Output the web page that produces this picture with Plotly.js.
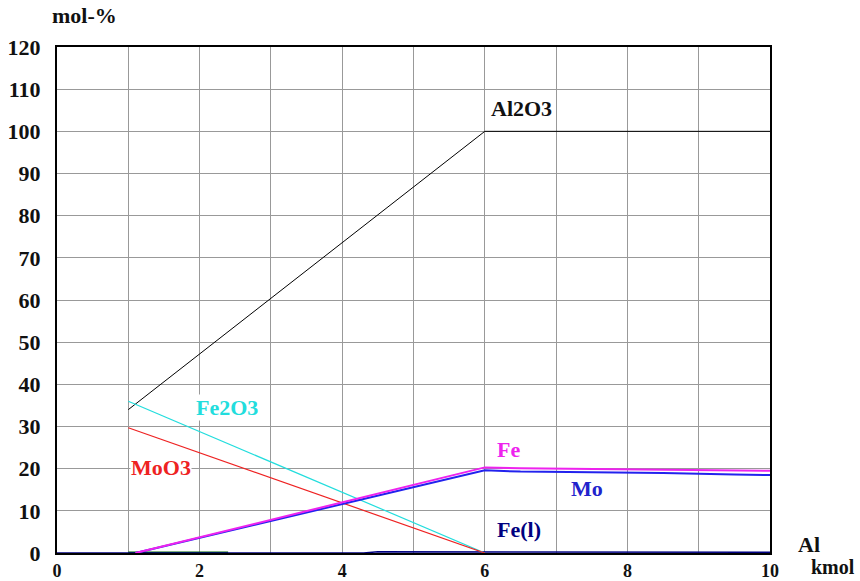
<!DOCTYPE html>
<html>
<head>
<meta charset="utf-8">
<script src="https://cdn.plot.ly/plotly-3.0.1.min.js"></script>
<style>html,body{margin:0;padding:0;background:#fff;}#chart{width:860px;height:581px;}</style>
</head>
<body>
<div id="chart"></div>
<script>
// Data
const al2o3X = [1, 6, 10];
const al2o3Y = [34, 100, 100];
const fe2o3X = [1, 6];
const fe2o3Y = [36, 0];
const moo3X = [1, 6];
const moo3Y = [29.7, 0];
const feX = [1.1, 6, 6.5, 8, 9.5, 10];
const feY = [0, 20.3, 20.1, 19.9, 19.6, 19.5];
const moX = [1.1, 6, 6.5, 8.5, 9.5, 10];
const moY = [0, 19.6, 19.3, 19.0, 18.6, 18.5];
const felX = [0, 1, 4.3, 4.5, 6, 10];
const felY = [0, 0, 0, 0.3, 0.3, 0.2];
const greenX = [1, 2.4];
const greenY = [0.2, 0.2];
const xTicks = [0, 2, 4, 6, 8, 10];
const yTicks = [0, 10, 20, 30, 40, 50, 60, 70, 80, 90, 100, 110, 120];

const serif = "Liberation Serif";
const FS = 22;

const traces = [
  {x: [0, 10], y: [-10, -10], xaxis: 'x2', mode: 'lines', line: {width: 0}, hoverinfo: 'skip'},
  {x: greenX, y: greenY, mode: 'lines', line: {color: '#006400', width: 1.5}},
  {x: felX, y: felY, mode: 'lines', line: {color: '#000080', width: 1.5}},
  {x: al2o3X, y: al2o3Y, mode: 'lines', line: {color: '#000000', width: 1}},
  {x: fe2o3X, y: fe2o3Y, mode: 'lines', line: {color: '#22dddd', width: 1.2}},
  {x: moo3X, y: moo3Y, mode: 'lines', line: {color: '#ee2222', width: 1.2}},
  {x: moX, y: moY, mode: 'lines', line: {color: '#2222ee', width: 2}},
  {x: feX, y: feY, mode: 'lines', line: {color: '#ee22ee', width: 2}}
];

function lab(text, x, y, color) {
  return {text: '<b>' + text + '</b>', x: x, y: y, xref: 'x', yref: 'y', xanchor: 'left', yanchor: 'middle',
    showarrow: false, bgcolor: '#ffffff', borderpad: 0,
    font: {family: serif, size: FS, color: color}};
}
function plab(text, x, y, xa, ya, fs) {
  return {text: '<b>' + text + '</b>', xref: 'paper', yref: 'paper', x: x, y: y, xanchor: xa, yanchor: ya, showarrow: false,
    font: {family: serif, size: fs, color: '#111'}};
}

const layout = {
  width: 860, height: 581,
  font: {family: serif},
  margin: {l: 57, r: 90, t: 47, b: 28},
  paper_bgcolor: '#ffffff', plot_bgcolor: '#ffffff',
  showlegend: false,
  xaxis: {
    range: [0, 10], tickmode: 'array', tickvals: xTicks, ticktext: xTicks.map(v => '<b>' + v + '</b>'),
    showgrid: false, zeroline: false,
    showline: true, mirror: true, linecolor: '#000000', linewidth: 2,
    ticks: '', ticklabelstandoff: 0, tickfont: {family: serif, size: 18, color: '#111'}
  },
  xaxis2: {range: [0, 10], overlaying: 'x', dtick: 1, tick0: 0, showgrid: true, gridcolor: '#999999', gridwidth: 1, showticklabels: false, zeroline: false},
  yaxis: {
    range: [0, 120], tickmode: 'array', tickvals: yTicks, ticktext: yTicks.map(v => '<b>' + v + '</b>'),
    showgrid: true, gridcolor: '#999999', gridwidth: 1, zeroline: false,
    showline: true, mirror: true, linecolor: '#000000', linewidth: 2,
    ticks: '', ticklabelstandoff: 10,
    tickfont: {family: serif, size: FS, color: '#111'}
  },
  annotations: [
    lab('Al2O3', 6.07, 105.5, '#111111'),
    lab('Fe2O3', 1.93, 34.5, '#22dddd'),
    lab('MoO3', 1.02, 20.3, '#ee2222'),
    lab('Fe', 6.15, 24.6, '#ee22ee'),
    lab('Mo', 7.2, 15.3, '#2222cc'),
    lab('Fe(l)', 6.15, 5.5, '#000080'),
    plab('mol-%', -0.01, 1.062, 'left', 'middle', FS),
    plab('Al', 1.037, 0.017, 'left', 'middle', FS),
    {text: '<b>kmol</b>', xref: 'paper', yref: 'paper', x: 1.122, y: 0, yshift: -27, xanchor: 'right', yanchor: 'bottom', showarrow: false,
      font: {family: serif, size: 20, color: '#111'}}
  ]
};

Plotly.newPlot('chart', traces, layout, {displayModeBar: false, staticPlot: true});
</script>
</body>
</html>
